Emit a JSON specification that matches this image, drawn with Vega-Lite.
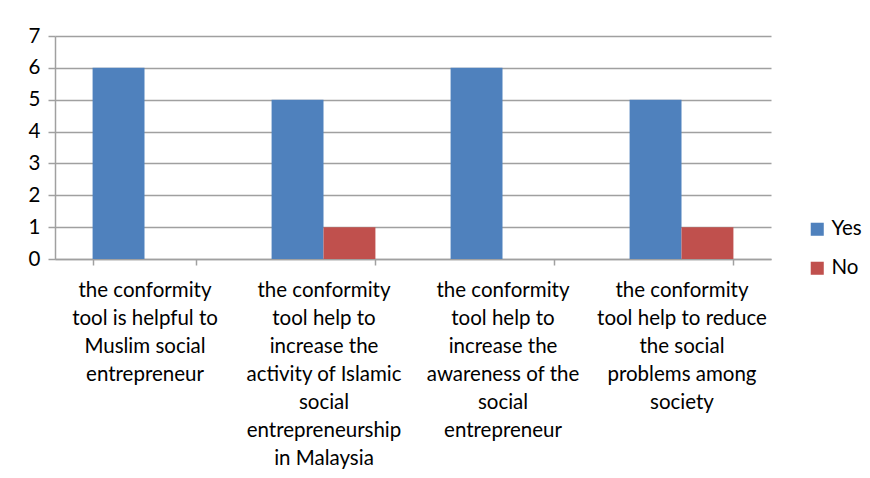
{
  "$schema": "https://vega.github.io/schema/vega-lite/v6.json",
  "width": 716,
  "height": 223,
  "autosize": {"type": "none"},
  "padding": {"left": 55, "top": 36, "right": 99, "bottom": 219},
  "background": "white",
  "data": {
    "values": [
      {"q": "the conformity|tool is helpful to|Muslim social|entrepreneur", "answer": "Yes", "count": 6},
      {"q": "the conformity|tool is helpful to|Muslim social|entrepreneur", "answer": "No", "count": 0},
      {"q": "the conformity|tool help to|increase the|activity of Islamic|social|entrepreneurship|in Malaysia", "answer": "Yes", "count": 5},
      {"q": "the conformity|tool help to|increase the|activity of Islamic|social|entrepreneurship|in Malaysia", "answer": "No", "count": 1},
      {"q": "the conformity|tool help to|increase the|awareness of the|social|entrepreneur", "answer": "Yes", "count": 6},
      {"q": "the conformity|tool help to|increase the|awareness of the|social|entrepreneur", "answer": "No", "count": 0},
      {"q": "the conformity|tool help to reduce|the social|problems among|society", "answer": "Yes", "count": 5},
      {"q": "the conformity|tool help to reduce|the social|problems among|society", "answer": "No", "count": 1}
    ]
  },
  "mark": {"type": "bar"},
  "encoding": {
    "x": {
      "field": "q",
      "type": "nominal",
      "sort": null,
      "title": null,
      "scale": {"paddingInner": 0.42, "paddingOuter": 0.21},
      "axis": {
        "labelExpr": "split(datum.label, '|')",
        "labelAngle": 0,
        "labelAlign": "center",
        "labelBaseline": "top",
        "labelFont": "Lato",
        "labelFontSize": 20.5,
        "labelLineHeight": 28,
        "labelColor": "#000000",
        "labelPadding": 15,
        "labelLimit": 0,
        "tickBand": "extent",
        "tickSize": 6,
        "tickColor": "#A0A0A0",
        "tickWidth": 1.5,
        "domainColor": "#A0A0A0",
        "domainWidth": 1.5,
        "grid": false
      }
    },
    "xOffset": {"field": "answer", "type": "nominal", "sort": ["Yes", "No"], "scale": {"paddingInner": 0, "paddingOuter": 0}},
    "y": {
      "field": "count",
      "type": "quantitative",
      "title": null,
      "scale": {"domain": [0, 7]},
      "axis": {
        "values": [0, 1, 2, 3, 4, 5, 6, 7],
        "labelFont": "Lato",
        "labelFontSize": 20.5,
        "labelColor": "#000000",
        "labelPadding": 8,
        "tickSize": 7,
        "tickColor": "#A0A0A0",
        "tickWidth": 1.5,
        "domainColor": "#A0A0A0",
        "domainWidth": 1.5,
        "gridColor": "#A0A0A0",
        "gridWidth": 1.5
      }
    },
    "color": {
      "field": "answer",
      "type": "nominal",
      "sort": ["Yes", "No"],
      "scale": {"domain": ["Yes", "No"], "range": ["#4F81BD", "#C0504D"]},
      "legend": {
        "title": null,
        "orient": "none",
        "legendX": 752,
        "legendY": 183,
        "symbolType": "square",
        "symbolSize": 170,
        "symbolStrokeWidth": 0,
        "labelFont": "Lato",
        "labelFontSize": 20.5,
        "labelColor": "#000000",
        "rowPadding": 18,
        "labelOffset": 4
      }
    }
  },
  "config": {"view": {"stroke": null}}
}
